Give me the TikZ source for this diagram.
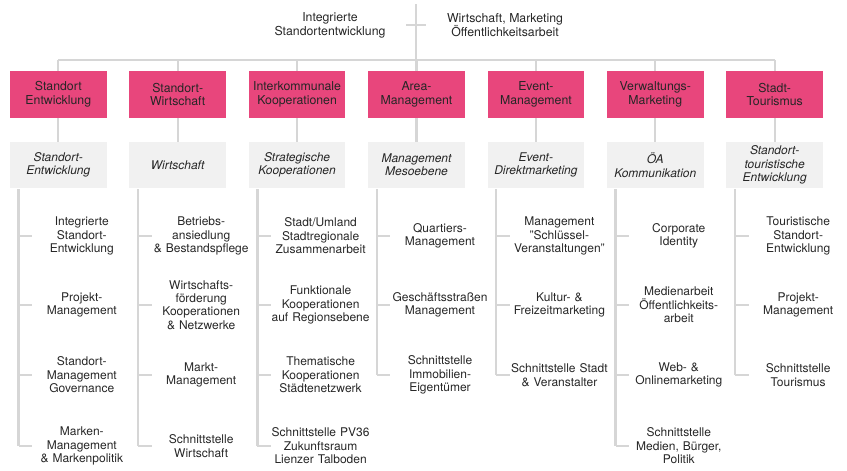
\documentclass[tikz,border=0pt]{standalone}
\usepackage{fontspec}
\setmainfont{TeX Gyre Heros}
\definecolor{pinkbox}{HTML}{E8467C}
\definecolor{greybox}{HTML}{F1F1F1}
\definecolor{lineclr}{HTML}{D6D6D6}
\definecolor{txt}{HTML}{262626}
\begin{document}
\begin{tikzpicture}[x=1pt,y=-1pt,
  ln/.style={draw=lineclr,line width=2.3pt},
  pinkn/.style={fill=pinkbox,minimum width=96.5pt,minimum height=47pt,inner sep=0pt,align=center,text=txt,font=\fontsize{12.3}{13.8}\selectfont},
  greyn/.style={fill=greybox,minimum width=96.5pt,minimum height=46pt,inner sep=0pt,align=center,text=txt,font=\fontsize{12}{13.4}\selectfont\itshape},
  itemn/.style={text width=99pt,inner sep=0pt,align=center,text=txt,font=\fontsize{12}{13.4}\selectfont},
  topn/.style={align=center,text=txt,font=\fontsize{12.3}{14}\selectfont}]
\useasboundingbox (0,0) rectangle (847,471);

% top texts and line
\node[topn] (tl) at (330,25) {Integrierte\\Standortentwicklung};
\node[topn] (tr) at (505,25) {Wirtschaft, Marketing\\Öffentlichkeitsarbeit};
\coordinate (top) at (416,4);
\coordinate (cross) at (416,25);
\coordinate (bar) at (416,60);
\draw[ln] (top) -- (bar);
\draw[ln] ([xshift=-10pt]cross) -- ([xshift=10pt]cross);

% pink and grey boxes
\foreach \i/\pt/\gt in {
  1/{Standort\\Entwicklung}/{Standort-\\Entwicklung},
  2/{Standort-\\Wirtschaft}/{Wirtschaft},
  3/{Interkommunale\\Kooperationen}/{Strategische\\Kooperationen},
  4/{Area-\\Management}/{Management\\Mesoebene},
  5/{Event-\\Management}/{Event-\\Direktmarketing},
  6/{Verwaltungs-\\Marketing}/{ÖA\\Kommunikation},
  7/{Stadt-\\Tourismus}/{Standort-\\touristische\\Entwicklung}}{
  \pgfmathsetmacro{\cx}{58.3+119.4*(\i-1)}
  \node[pinkn] (p\i) at (\cx,94.5) {\pt};
  \node[greyn] (g\i) at (\cx,165) {\gt};
  \coordinate (v\i) at (\cx-39.75,189);
  \draw[ln] (p\i.north |- bar) -- (p\i.north);
  \draw[ln] (p\i) -- (g\i);
}
\draw[ln] (p1.north |- bar) -- (p7.north |- bar);

% items
\foreach \c/\k/\y/\t in {
  1/1/236/{Integrierte\\Standort-\\Entwicklung},
  1/2/305/{Projekt-\\Management},
  1/3/375/{Standort-\\Management\\Governance},
  1/4/446/{Marken-\\Management\\\& Markenpolitik},
  2/1/236/{Betriebs-\\ansiedlung\\\& Bestandspflege},
  2/2/305/{Wirtschafts-\\förderung\\Kooperationen\\\& Netzwerke},
  2/3/375/{Markt-\\Management},
  2/4/446/{Schnittstelle\\Wirtschaft},
  3/1/236/{Stadt/Umland\\Stadtregionale\\Zusammenarbeit},
  3/2/305/{Funktionale\\Kooperationen\\auf Regionsebene},
  3/3/375/{Thematische\\Kooperationen\\Städtenetzwerk},
  3/4/446/{Schnittstelle PV36\\Zukunftsraum\\Lienzer Talboden},
  4/1/236/{Quartiers-\\Management},
  4/2/305/{Geschäftsstraßen\\Management},
  4/3/375/{Schnittstelle\\Immobilien-\\Eigentümer},
  5/1/236/{Management\\"Schlüssel-\\Veranstaltungen"},
  5/2/305/{Kultur- \&\\Freizeitmarketing},
  5/3/375/{Schnittstelle Stadt\\\& Veranstalter},
  6/1/236/{Corporate\\Identity},
  6/2/305/{Medienarbeit\\Öffentlichkeits-\\arbeit},
  6/3/375/{Web- \&\\Onlinemarketing},
  6/4/446/{Schnittstelle\\Medien, Bürger,\\Politik},
  7/1/236/{Touristische\\Standort-\\Entwicklung},
  7/2/305/{Projekt-\\Management},
  7/3/375/{Schnittstelle\\Tourismus}}{
  \pgfmathsetmacro{\cx}{58.3+119.4*(\c-1)+23.5}
  \node[itemn] (i\c\k) at (\cx,\y) {\t};
  \draw[ln] (i\c\k.west -| v\c) -- (i\c\k.west);
}
% vertical list lines
\draw[ln] (v1) -- (i14.west -| v1);
\draw[ln] (v2) -- (i24.west -| v2);
\draw[ln] (v3) -- (i34.west -| v3);
\draw[ln] (v4) -- (i43.west -| v4);
\draw[ln] (v5) -- (i53.west -| v5);
\draw[ln] (v6) -- (i64.west -| v6);
\draw[ln] (v7) -- (i73.west -| v7);
\end{tikzpicture}
\end{document}
